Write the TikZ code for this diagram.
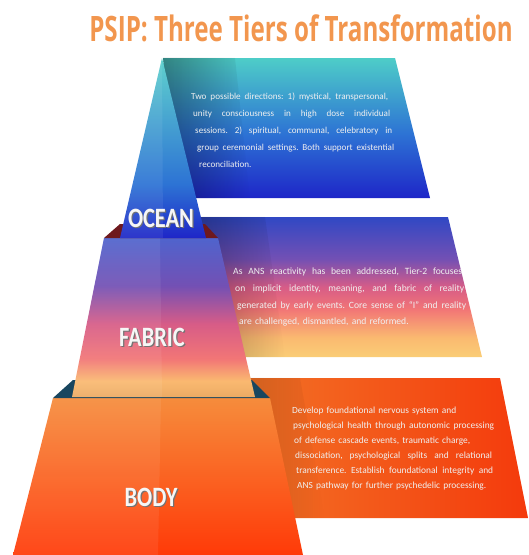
\documentclass[tikz,border=0pt]{standalone}
\usepackage{graphicx}
\usepackage{fontspec}
\setmainfont{Carlito}
\newfontfamily\titlefont{Open Sans}
\usetikzlibrary{positioning, fadings}
\frenchspacing

\definecolor{titleorange}{RGB}{242,150,78}
\definecolor{ocTop}{RGB}{78,205,200}
\definecolor{ocMid}{RGB}{45,115,212}
\definecolor{ocBot}{RGB}{30,38,200}
\definecolor{fbA}{RGB}{48,72,196}
\definecolor{fbB}{RGB}{115,80,180}
\definecolor{fbC}{RGB}{215,92,135}
\definecolor{fbD}{RGB}{242,118,118}
\definecolor{fbE}{RGB}{250,185,112}
\definecolor{fbF}{RGB}{250,205,118}
\definecolor{bdLeft}{RGB}{242,115,38}
\definecolor{bdRight}{RGB}{244,58,12}
\definecolor{bdTop}{RGB}{246,140,60}
\definecolor{bdBot}{RGB}{255,58,8}
\definecolor{darkred}{RGB}{110,25,30}
\definecolor{darkteal}{RGB}{25,70,95}

\pgfdeclareverticalshading{oceanpanel}{100bp}{color(0bp)=(ocBot); color(25bp)=(ocBot);
  color(48bp)=(ocMid); color(75bp)=(ocTop); color(100bp)=(ocTop)}
\pgfdeclareverticalshading{oceantier}{100bp}{color(0bp)=(ocBot); color(25bp)=(ocBot);
  color(40bp)=(ocMid); color(75bp)=(ocTop!90!white); color(100bp)=(ocTop)}
\pgfdeclareverticalshading{fabricpanel}{100bp}{color(0bp)=(fbF); color(25bp)=(fbF);
  color(32bp)=(fbE); color(42bp)=(fbD); color(50bp)=(fbC); color(60bp)=(fbB);
  color(75bp)=(fbA); color(100bp)=(fbA)}
\pgfdeclareverticalshading{fabrictier}{100bp}{color(0bp)=(fbE!70!brown); color(25bp)=(fbE!75!brown);
  color(30bp)=(fbE); color(37bp)=(fbD); color(48bp)=(fbC); color(60bp)=(fbB);
  color(75bp)=(fbA!85!white); color(100bp)=(fbA)}

\tikzstyle{desc} = [text=white!88!gray, align=left, inner sep=0pt, anchor=north west]
\tikzstyle{tier} = [text=white!93!gray, font=\bfseries\fontsize{28}{28}\selectfont, inner sep=0pt]

% one stretched line of a description: [indent]{width}{text}
\newcommand{\jline}[3][0pt]{\hspace*{#1}\hbox to #2{\spaceskip=.26em plus 1fil\relax #3}\\}
\newcommand{\shadowed}[1]{\scalebox{0.8}[1]{\makebox[0pt][l]{\hspace{1.5pt}\raisebox{-1.5pt}{\textcolor{black!55}{#1}}}#1}}

\begin{document}
\begin{tikzpicture}[x=1pt, y=-1pt]
  \useasboundingbox (0,0) rectangle (529,555);

  % title
  \node[text=titleorange, font=\titlefont\bfseries\fontsize{35}{35}\selectfont, inner sep=0pt] (title) at (301,28)
    {\scalebox{0.69}[1]{PSIP: Three Tiers of Transformation}};

  % side panels
  \shade[shading=oceanpanel] (163,58) -- (395,58) -- (430,198) -- (178,198) -- cycle;
  \shade[shading=fabricpanel] (190,217) -- (448,217) -- (482,357) -- (215,357) -- cycle;
  \shade[left color=bdLeft, right color=bdRight] (240,378) -- (500,378) -- (528,518) -- (265,518) -- cycle;
  \fill[black, opacity=.35, path fading=east] (163,58) -- (235,58) -- (250,198) -- (178,198) -- cycle;
  \fill[black, opacity=.3, path fading=east] (190,217) -- (265,217) -- (285,357) -- (215,357) -- cycle;
  \fill[black, opacity=.15, path fading=east] (240,378) -- (300,378) -- (325,518) -- (265,518) -- cycle;

  % pyramid
  \shade[top color=bdTop, bottom color=bdBot] (53,398) -- (270,398) -- (303,555) -- (13,555) -- cycle;
  \fill[white, opacity=.07] (53,398) -- (161,398) -- (158,555) -- (13,555) -- cycle;
  \fill[darkteal] (53,398) -- (270,398) -- (252,380) -- (73,380) -- cycle;
  \shade[shading=fabrictier] (104,238) -- (218,238) -- (255,397) -- (72,397) -- cycle;
  \fill[white, opacity=.07] (104,238) -- (160,238) -- (162,397) -- (72,397) -- cycle;
  \fill[darkred] (104,238) -- (218,238) -- (205,224) -- (120,224) -- cycle;
  \shade[shading=oceantier] (162,58) -- (206,238) -- (120,238) -- cycle;
  \fill[white, opacity=.07] (162,58) -- (163,238) -- (120,238) -- cycle;

  % tier names
  \node[tier] (ocean) at (161,219) {\shadowed{OCEAN}};
  \node[tier] (fabric) at (152,338) {\shadowed{FABRIC}};
  \node[tier] (body) at (151,498) {\shadowed{BODY}};

  % descriptions
  \node[desc, text width=215pt, font=\fontsize{9.1}{17}\selectfont] (oceantxt) at (191,93) {%
    \jline{197pt}{Two possible directions: 1) mystical, transpersonal,}
    \jline[2pt]{197pt}{unity consciousness in high dose individual}
    \jline[4pt]{197pt}{sessions. 2) spiritual, communal, celebratory in}
    \jline[6pt]{197pt}{group ceremonial settings. Both support existential}
    \hspace*{8pt}reconciliation.};
  \node[desc, text width=240pt, font=\fontsize{9.6}{16.7}\selectfont] (fabrictxt) at (233,268) {%
    \jline{229pt}{As ANS reactivity has been addressed, Tier-2 focuses}
    \jline[2pt]{229pt}{on implicit identity, meaning, and fabric of reality}
    \jline[4pt]{229pt}{generated by early events. Core sense of ``I'' and reality}
    \hspace*{6pt}are challenged, dismantled, and reformed.};
  \node[desc, text width=215pt, font=\fontsize{9.4}{15}\selectfont] (bodytxt) at (292,407) {%
    Develop foundational nervous system and\\
    \jline[1pt]{201pt}{psychological health through autonomic processing}
    \hspace*{2pt}of defense cascade events, traumatic charge,\\
    \jline[3pt]{197pt}{dissociation, psychological splits and relational}
    \jline[4pt]{197pt}{transference. Establish foundational integrity and}
    \hspace*{5pt}ANS pathway for further psychedelic processing.};
\end{tikzpicture}
\end{document}
